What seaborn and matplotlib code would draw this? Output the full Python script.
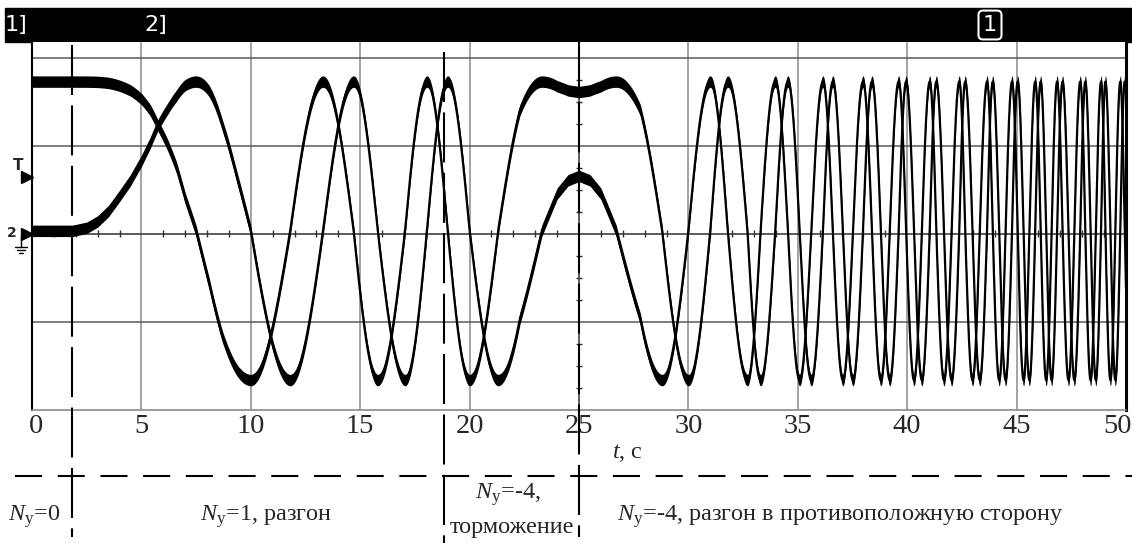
#!/usr/bin/env python3
"""Two-channel encoder oscillogram with control-mode annotations."""

import matplotlib

matplotlib.use("Agg")
import matplotlib.pyplot as plt
import matplotlib.transforms as mtransforms
import numpy as np
import pandas as pd
import seaborn as sns
from matplotlib.patches import Rectangle

# shaft phase (time in s, phase in quarter turns)
PHASE_T = [0.0, 1.85, 2.5, 3.0, 3.5, 4.0, 4.5, 5.0, 5.4, 5.75, 6.2, 6.6, 7.0, 7.5, 8.1,
           8.7, 9.35, 10.0, 10.9, 11.8, 12.55, 13.3, 14.0, 14.7, 15.8, 17.05, 18.05, 19.0,
           20.0, 21.3, 22.3, 23.3, 24.0, 24.5, 25.0, 25.5, 26.0, 26.7, 27.8, 28.8, 30.0,
           31.0, 31.8, 32.7, 33.3, 33.97, 34.55, 36.15, 36.6, 37.98, 38.39, 39.61, 39.95,
           41.03, 41.33, 42.38, 42.65, 43.65, 43.91, 44.79, 45.05, 45.85, 46.1, 46.85,
           47.1, 47.91, 48.14, 48.86, 49.06, 49.74, 49.94, 50.0]
PHASE_Q = [0, 0, 0.013, 0.04, 0.085, 0.15, 0.22, 0.31, 0.4, 0.5, 0.61, 0.72, 0.86, 1, 1.23,
           1.5, 1.76, 2, 2.5, 3, 3.5, 4, 4.5, 5, 6, 7, 8, 9,
           10, 11, 11.6, 12, 12.16, 12.22, 12.24, 12.22, 12.16, 12, 11.6, 11, 10,
           9, 8, 7, 6, 5, 4, 1, 0, -3, -4, -7, -8,
           -11, -12, -15, -16, -19, -20, -23, -24, -27, -28, -31,
           -32, -35, -36, -39, -40, -43, -44, -44.25]

# signal levels in screen divisions
TRACE_HIGH = 1.73
TRACE_LOW = -1.66
TRIGGER_LEVEL = 0.65

# control-mode switch times, s
MODE_T = [1.85, 18.85, 25.0]

X_TICKS = [0, 5, 10, 15, 20, 25, 30, 35, 40, 45, 50]
GRID_T = [5, 10, 15, 20, 30, 35, 40, 45]
GRID_Y = [-1, 1, 2]

W, H = 1132, 545


def fx(px):
    return px / W


def fy(py):
    return 1 - py / H


def to_t(px):
    return (px - 32) / 21.88


def to_y(py):
    return (234 - py) / 88.0


sns.set_theme(style="white")
plt.rcParams.update(
    {
        "font.family": ["Liberation Serif", "DejaVu Serif"],
        "mathtext.fontset": "custom",
        "mathtext.rm": "Liberation Serif",
        "mathtext.it": "Liberation Serif:italic",
    }
)

t = np.linspace(0, 50, 24001)
phi = np.interp(t, PHASE_T, PHASE_Q) * np.pi / 2
mid = (TRACE_HIGH + TRACE_LOW) / 2
half = (TRACE_HIGH - TRACE_LOW) / 2
df = pd.DataFrame({"t": t, "ch1": mid + half * np.cos(phi), "ch2": mid + half * np.sin(phi)})

fig = plt.figure(figsize=(W / 100, H / 100), dpi=100)
ax = fig.add_axes([fx(32), fy(410), fx(1126) - fx(32), fy(42) - fy(410)])
ax.set_xlim(0, 50)
ax.set_ylim(-2, 2.18)

# scope graticule
for g in GRID_T:
    ax.axvline(g, color="#8a8a8a", lw=1.1, zorder=1)
for g in GRID_Y:
    ax.axhline(g, color="#5a5a5a", lw=1.1, zorder=1)
ax.axhline(0, color="#303030", lw=1.1, zorder=1)
ax.axvline(25, color="#303030", lw=1.1, zorder=1)
minor_t = [v for v in range(1, 50) if v % 5]
ax.vlines(minor_t, -0.04, 0.04, color="#303030", lw=1, zorder=1)
minor_y = [v / 4 for v in range(-7, 9) if v % 4]
ax.hlines(minor_y, 24.85, 25.15, color="#303030", lw=1, zorder=1)

# traces with their noise band
for ch in ["ch1", "ch2"]:
    ax.fill_between(df["t"], df[ch] - 0.065, df[ch] + 0.065, color="black", lw=0, zorder=3)
    sns.lineplot(data=df, x="t", y=ch, color="black", lw=1.6, estimator=None, ax=ax, zorder=3)

ax.set_xticks(X_TICKS)
ax.set_xticklabels([str(v) for v in X_TICKS], fontsize=20.5)
ax.tick_params(axis="x", length=0, pad=3)
labels = ax.get_xticklabels()
labels[0].set_transform(labels[0].get_transform() + mtransforms.ScaledTranslation(0.04, 0, fig.dpi_scale_trans))
labels[-1].set_horizontalalignment("right")
labels[-1].set_transform(labels[-1].get_transform() + mtransforms.ScaledTranslation(0.055, 0, fig.dpi_scale_trans))
ax.set_yticks([])
ax.set_xlabel("")
ax.set_ylabel("")
ax.spines["top"].set_visible(False)
ax.spines["left"].set_color("black")
ax.spines["left"].set_linewidth(1.5)
ax.spines["right"].set_color("black")
ax.spines["right"].set_linewidth(2.2)
ax.spines["bottom"].set_color("#8a8a8a")
ax.spines["bottom"].set_linewidth(1.2)

# mode boundaries
tops = [to_y(45), to_y(52), to_y(42)]
bots = [to_y(537), to_y(543), to_y(537)]
for m, y0, y1 in zip(MODE_T, tops, bots):
    ax.plot([m, m], [y0, y1], color="black", lw=1.5, dashes=(24, 5), clip_on=False, zorder=6)
ax.plot([to_t(15), to_t(1132)], [to_y(476), to_y(476)], color="black", lw=1.5,
        dashes=(13, 7.5), clip_on=False, zorder=6)

# channel markers at the left edge
ax.plot([to_t(27)], [TRIGGER_LEVEL], marker=">", ms=8, color="black", clip_on=False)
ax.plot([to_t(27)], [to_y(234)], marker=">", ms=8, color="black", clip_on=False)
fig.text(fx(18), fy(165), "T", family="DejaVu Sans", fontweight="bold", fontsize=11,
         ha="center", va="center")
fig.text(fx(12), fy(233), "2", family="DejaVu Sans", fontweight="bold", fontsize=10,
         ha="center", va="center")
gx = to_t(21)
ax.plot([gx, gx], [to_y(236), to_y(247)], color="black", lw=1, clip_on=False)
for py, x0, x1 in [(247, 15, 27), (250, 17, 25), (253, 19, 23)]:
    ax.plot([to_t(x0), to_t(x1)], [to_y(py), to_y(py)], color="black", lw=1, clip_on=False)

# top status bar
fig.add_artist(Rectangle((fx(5), fy(42)), fx(1132) - fx(5), fy(8) - fy(42),
                         transform=fig.transFigure, color="black", zorder=0))
for px, label in [(16, "1]"), (156, "2]")]:
    fig.text(fx(px), fy(25), label, color="white", family="DejaVu Sans", fontsize=16,
             ha="center", va="center")
fig.text(fx(990), fy(25), "1", color="white", family="DejaVu Sans", fontsize=16,
         ha="center", va="center",
         bbox={"boxstyle": "round,pad=0.2", "fc": "black", "ec": "white", "lw": 1.5})

# axis title and mode labels
fs = 17.5
fig.text(fx(627), fy(453), r"$t$, с", fontsize=fs, ha="center", va="center")
fig.text(fx(8), fy(517), r"$N_\mathrm{у}$=0", fontsize=fs, ha="left", va="center")
fig.text(fx(266), fy(517), r"$N_\mathrm{у}$=1, разгон", fontsize=fs, ha="center", va="center")
fig.text(fx(508), fy(495), r"$N_\mathrm{у}$=-4,", fontsize=fs, ha="center", va="center")
fig.text(fx(512), fy(528), "торможение", fontsize=fs, ha="center", va="center")
fig.text(fx(840), fy(517), r"$N_\mathrm{у}$=-4, разгон в противоположную сторону",
         fontsize=fs, ha="center", va="center")

fig.savefig("out.png", dpi=100, facecolor="white")
